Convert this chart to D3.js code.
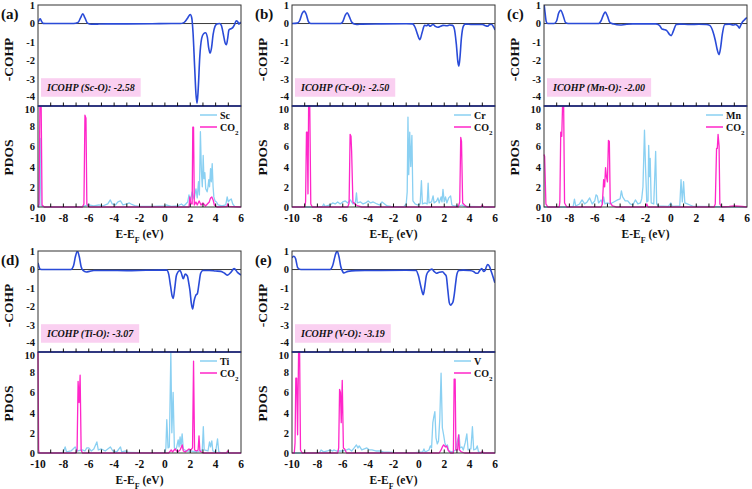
<!DOCTYPE html>
<html><head><meta charset="utf-8">
<script src="https://cdn.jsdelivr.net/npm/d3@7/dist/d3.min.js"></script>
<style>
body{margin:0;background:#fff}
svg{display:block}
text{font-family:"Liberation Serif","Times New Roman",serif;font-weight:bold;fill:#111}
</style>
</head><body>
<svg id="chart" width="752" height="489"></svg>
<script>
// ---------------- DATA ----------------
const panelLabels = ["(a)", "(b)", "(c)", "(d)", "(e)"];
const metals = ["Sc", "Cr", "Mn", "Ti", "V"];
const icohpPairs = ["Sc-O", "Cr-O", "Mn-O", "Ti-O", "V-O"];
const icohpValues = ["-2.58", "-2.50", "-2.00", "-3.07", "-3.19"];
const xTicks = [-10, -8, -6, -4, -2, 0, 2, 4, 6];
const xMinorTicks = [-9, -8, -7, -6, -5, -4, -3, -2, -1, 0, 1, 2, 3, 4, 5];
const cohpTicks = [1, 0, -1, -2, -3, -4];
const pdosTicks = [0, 2, 4, 6, 8, 10];

// -COHP curves [E, value]
const cohpSc = [[-10,0.05],[-9.9,0.2],[-9.82,0.25],[-9.72,0.12],[-9.6,0.01],[-9.3,0],[-7.2,0],[-6.85,0.05],[-6.65,0.3],[-6.47,0.52],[-6.3,0.3],[-6.1,0.02],[-5.8,-0.04],[-5.3,-0.03],[-4.5,-0.02],[-3,-0.02],[-1,-0.01],[0.5,0],[1.2,0],[1.5,0.05],[1.8,0.3],[2.0,0.49],[2.12,0.3],[2.22,-0.5],[2.35,-2.4],[2.45,-3.8],[2.54,-4.3],[2.63,-3.5],[2.75,-1.8],[2.9,-0.8],[3.05,-0.55],[3.2,-0.5],[3.35,-0.75],[3.45,-1.3],[3.56,-1.6],[3.68,-1.3],[3.8,-0.6],[3.95,-0.15],[4.1,-0.03],[4.3,0],[4.45,-0.1],[4.6,-0.55],[4.75,-1.05],[4.85,-1.14],[4.95,-0.8],[5.05,-0.35],[5.2,-0.28],[5.35,-0.22],[5.5,-0.05],[5.62,0.15],[5.72,0.12],[5.84,-0.03],[5.95,0.05],[6,0.05]];
const cohpCr = [[-10,0],[-9.6,0.02],[-9.4,0.15],[-9.2,0.55],[-9.04,0.67],[-8.88,0.5],[-8.7,0.1],[-8.5,0],[-6.2,0],[-6.0,0.1],[-5.8,0.45],[-5.65,0.58],[-5.5,0.4],[-5.3,0.08],[-5.1,-0.03],[-4.9,-0.05],[-4.5,-0.03],[-3,-0.02],[-1,-0.01],[-0.5,-0.02],[-0.3,-0.2],[-0.1,-0.6],[0.08,-0.87],[0.25,-0.5],[0.45,-0.1],[0.6,-0.12],[0.75,-0.05],[0.86,-0.15],[1.0,-0.1],[1.12,-0.05],[1.3,-0.15],[1.5,-0.2],[1.7,-0.15],[1.9,-0.1],[2.2,-0.12],[2.42,-0.08],[2.65,-0.1],[2.8,-0.3],[2.95,-1.1],[3.08,-2.1],[3.15,-2.3],[3.23,-1.9],[3.35,-0.8],[3.5,-0.15],[3.65,-0.03],[4.2,-0.05],[5.0,-0.05],[5.2,-0.1],[5.4,-0.15],[5.6,-0.05],[5.75,-0.05],[5.9,-0.2],[6,-0.35]];
const cohpMn = [[-10,1.1],[-9.92,0.6],[-9.82,0.1],[-9.7,0],[-9.2,0],[-9.0,0.15],[-8.85,0.55],[-8.68,0.72],[-8.5,0.45],[-8.3,0.05],[-8.1,0],[-5.7,0],[-5.5,0.15],[-5.3,0.5],[-5.17,0.62],[-5.0,0.4],[-4.8,0.05],[-4.5,-0.03],[-4.0,-0.08],[-3.6,-0.05],[-3,-0.02],[-1.2,-0.02],[-0.9,-0.1],[-0.7,-0.3],[-0.5,-0.33],[-0.3,-0.4],[-0.1,-0.6],[0.03,-0.65],[0.2,-0.4],[0.43,-0.05],[0.7,-0.03],[1.5,-0.05],[2.2,-0.04],[2.8,-0.05],[3.06,-0.1],[3.3,-0.4],[3.5,-0.9],[3.65,-1.4],[3.8,-1.68],[3.92,-1.3],[4.05,-0.6],[4.25,-0.05],[4.6,-0.03],[4.9,-0.08],[5.1,-0.05],[5.3,-0.15],[5.4,-0.25],[5.5,-0.1],[5.65,0.1],[5.8,0.2],[5.97,0.3],[6,0.3]];
const cohpTi = [[-10,0.36],[-9.92,0.15],[-9.82,0.02],[-9.6,0],[-7.4,0],[-7.2,0.2],[-7.05,0.7],[-6.89,1.0],[-6.75,0.7],[-6.6,0.15],[-6.45,-0.05],[-6.2,-0.13],[-5.95,-0.1],[-5.6,-0.05],[-4.5,-0.05],[-3,-0.06],[-1.5,-0.04],[-0.5,-0.03],[0.15,-0.03],[0.3,-0.25],[0.45,-0.9],[0.58,-1.45],[0.66,-1.56],[0.78,-1.0],[0.9,-0.35],[0.98,-0.2],[1.1,-0.08],[1.19,-0.05],[1.3,-0.2],[1.45,-0.5],[1.6,-0.25],[1.77,-0.35],[1.9,-0.8],[1.98,-1.15],[2.08,-1.8],[2.19,-2.13],[2.3,-1.7],[2.43,-1.4],[2.56,-1.3],[2.7,-0.7],[2.82,-0.2],[3.0,-0.05],[3.5,-0.05],[4.0,-0.08],[4.41,-0.1],[4.7,-0.2],[4.94,-0.3],[5.2,-0.15],[5.46,0.05],[5.72,-0.15],[6,-0.3]];
const cohpV = [[-10,0.63],[-9.85,0.72],[-9.72,0.6],[-9.55,0.1],[-9.3,0],[-7.0,0],[-6.8,0.2],[-6.6,0.75],[-6.44,1.0],[-6.3,0.7],[-6.15,0.15],[-6.0,-0.12],[-5.93,-0.18],[-5.6,-0.1],[-5.0,-0.06],[-3,-0.05],[-1,-0.04],[-0.22,-0.05],[-0.05,-0.3],[0.15,-0.9],[0.3,-1.3],[0.35,-1.36],[0.45,-1.0],[0.6,-0.3],[0.75,-0.1],[1.03,0.02],[1.2,-0.1],[1.38,-0.2],[1.6,-0.15],[1.85,-0.12],[2.05,-0.25],[2.16,-0.36],[2.28,-1.1],[2.4,-1.8],[2.5,-1.93],[2.6,-1.85],[2.68,-1.77],[2.8,-1.3],[2.9,-0.72],[3.0,-0.25],[3.15,-0.05],[3.5,-0.03],[3.93,-0.05],[4.3,-0.1],[4.5,-0.2],[4.65,-0.2],[4.8,-0.05],[4.96,0.05],[5.1,-0.1],[5.22,-0.05],[5.32,0.15],[5.43,0.27],[5.55,0.18],[5.7,-0.1],[5.85,-0.4],[5.99,-0.72]];

// PDOS metal curves [E, value]
const pdosSc = [[-10,0],[-9.9,0],[-9.83,6.8],[-9.76,0.1],[-9.5,0],[-7,0],[-6.5,0.05],[-6,0.2],[-5.6,0.1],[-5.2,0.2],[-4.9,0.1],[-4.5,0.3],[-4.3,0.7],[-4.15,0.3],[-3.9,0.2],[-3.7,0.5],[-3.5,0.6],[-3.3,0.2],[-3.0,0.3],[-2.8,0.4],[-2.6,0.25],[-2.3,0.1],[-2,0.05],[-1,0.05],[0,0.1],[0.1,0.2],[0.5,0.05],[1.0,0.1],[1.3,0.3],[1.5,0.1],[1.8,0.5],[1.9,1.2],[2.0,0.6],[2.15,1.5],[2.3,0.8],[2.45,1.8],[2.55,0.9],[2.65,2.5],[2.72,1.2],[2.8,7.45],[2.88,3.5],[2.95,2.0],[3.02,5.1],[3.08,2.8],[3.15,3.4],[3.22,1.8],[3.33,1.5],[3.4,2.0],[3.46,2.7],[3.52,2.0],[3.6,3.8],[3.66,2.5],[3.73,4.3],[3.8,2.0],[3.86,1.0],[3.95,0.6],[4.07,0.5],[4.2,0.2],[4.5,0.1],[4.8,0.2],[4.91,1.0],[5.0,0.5],[5.12,0.7],[5.23,0.8],[5.35,0.3],[5.5,0.05],[6,0]];
const pdosCr = [[-10,0],[-8,0],[-7.6,0.05],[-7.5,0.3],[-7.4,0.05],[-7.0,0.2],[-6.8,0.4],[-6.6,0.3],[-6.4,0.5],[-6.2,0.3],[-6.0,0.5],[-5.8,0.6],[-5.6,0.4],[-5.4,0.7],[-5.2,0.3],[-5.0,0.5],[-4.92,1.4],[-4.85,0.4],[-4.6,0.5],[-4.4,0.3],[-4.2,0.4],[-4.0,0.6],[-3.8,0.4],[-3.6,0.5],[-3.3,0.3],[-3.1,0.2],[-2.9,0.5],[-2.7,0.3],[-2.5,0.1],[-2.2,0.05],[-1.2,0],[-1.0,0.3],[-0.92,1.5],[-0.86,8.9],[-0.8,3.2],[-0.72,7.4],[-0.64,4.0],[-0.55,7.1],[-0.47,0.6],[-0.3,0.3],[-0.1,0.2],[0.1,0.3],[0.2,2.6],[0.28,0.3],[0.5,0.4],[0.65,0.3],[0.73,2.35],[0.8,0.4],[1.0,0.5],[1.12,1.1],[1.2,0.4],[1.4,0.6],[1.5,0.9],[1.6,0.4],[1.75,1.0],[1.82,0.5],[1.9,1.75],[2.0,0.5],[2.1,1.0],[2.2,0.4],[2.35,0.9],[2.5,1.1],[2.6,0.2],[2.8,0.1],[3.2,0.1],[3.4,0.2],[3.6,0.05],[6,0]];
const pdosMn = [[-10,0],[-8,0],[-7.7,0.05],[-7.6,0.77],[-7.5,0.1],[-7.2,0.3],[-7.0,0.7],[-6.8,0.3],[-6.6,0.5],[-6.4,0.9],[-6.2,0.3],[-6.0,0.6],[-5.9,1.2],[-5.8,1.1],[-5.7,0.4],[-5.5,0.7],[-5.4,0.3],[-5.3,1.0],[-5.2,0.3],[-5.0,0.4],[-4.8,0.3],[-4.5,0.5],[-4.2,0.7],[-4.0,0.8],[-3.9,1.6],[-3.8,1.0],[-3.6,0.6],[-3.4,0.6],[-3.2,0.3],[-3.0,0.2],[-2.8,0.7],[-2.6,0.3],[-2.4,0.4],[-2.3,0.8],[-2.2,2.0],[-2.08,7.6],[-2.0,4.0],[-1.9,0.5],[-1.8,0.6],[-1.75,6.1],[-1.68,3.0],[-1.63,4.8],[-1.55,0.4],[-1.35,0.3],[-1.2,5.5],[-1.12,0.3],[-1.0,0.1],[-0.2,0.05],[0,0.4],[0.1,0.05],[0.7,0.1],[0.8,2.7],[0.9,0.5],[1.0,2.5],[1.1,0.4],[1.3,0.3],[1.5,0.2],[1.8,0.05],[6,0]];
const pdosTi = [[-10,0],[-8.2,0],[-8.0,0.1],[-7.86,0.6],[-7.75,0.1],[-7.4,0.2],[-7.07,0.6],[-6.9,0.2],[-6.5,0.3],[-6.3,0.2],[-6.15,0.5],[-6.0,0.5],[-5.8,0.2],[-5.6,0.4],[-5.36,1.1],[-5.25,0.3],[-5.0,0.4],[-4.7,0.2],[-4.5,0.4],[-4.3,0.6],[-4.1,0.2],[-3.8,0.1],[-3.5,0.6],[-3.4,0.1],[-3.1,0.2],[-2.9,0.05],[-1,0],[0,0.05],[0.08,0.5],[0.15,3.3],[0.25,0.5],[0.35,0.6],[0.47,9.9],[0.55,2.0],[0.65,6.0],[0.75,0.5],[0.9,0.4],[1.05,1.3],[1.12,0.6],[1.2,1.6],[1.28,0.7],[1.36,1.9],[1.45,0.4],[1.7,0.2],[2.0,0.2],[2.5,0.1],[2.95,0.3],[3.03,2.6],[3.1,0.3],[3.4,0.2],[3.52,1.1],[3.6,0.6],[3.7,1.2],[3.78,0.2],[4.0,0.1],[4.15,1.4],[4.25,0.1],[4.5,0],[6,0]];
const pdosV = [[-10,0],[-8,0],[-7.8,0.1],[-7.7,0.3],[-7.5,0.1],[-7.2,0.2],[-7.0,0.3],[-6.8,0.2],[-6.7,0.3],[-6.5,0.2],[-6.0,0.2],[-5.7,0.3],[-5.5,0.4],[-5.3,0.2],[-5.1,0.5],[-4.92,0.8],[-4.8,0.5],[-4.7,0.7],[-4.5,0.3],[-4.3,0.4],[-4.1,0.5],[-3.9,0.3],[-3.7,0.3],[-3.4,0.2],[-3.1,0.2],[-2.8,0.1],[-2,0.05],[-0.5,0],[0.3,0.1],[0.4,0.4],[0.5,0.1],[0.8,0.3],[0.9,0.7],[1.0,0.5],[1.1,3.0],[1.18,3.6],[1.26,4.1],[1.35,1.5],[1.45,0.9],[1.55,1.2],[1.65,3.4],[1.75,7.9],[1.85,2.5],[1.95,1.8],[2.05,1.0],[2.15,0.6],[2.25,0.8],[2.35,0.2],[2.6,0.1],[2.9,0.3],[3.0,1.0],[3.1,1.5],[3.17,1.8],[3.25,0.5],[3.4,0.6],[3.5,0.3],[3.65,1.0],[3.78,1.9],[3.88,0.3],[4.0,0.4],[4.1,0.4],[4.22,2.6],[4.32,0.3],[4.5,0.4],[4.6,0.7],[4.7,0.1],[5,0],[6,0]];

// PDOS CO2 curves [E, value]
const co2Sc = [[-10,0],[-9.95,0.2],[-9.92,0.3],[-9.85,9.9],[-9.75,9.9],[-9.68,0.2],[-9.5,0],[-6.5,0],[-6.38,0.3],[-6.3,9.1],[-6.22,8.8],[-6.15,0.3],[-6.0,0],[1.9,0],[1.97,1.0],[2.05,0.3],[2.15,0.3],[2.2,7.9],[2.26,7.9],[2.32,0.2],[2.45,0.5],[2.55,0.2],[2.7,0.6],[2.85,0.2],[3.0,0.4],[3.2,0.1],[3.5,0.5],[3.6,0.9],[3.7,1.0],[3.8,0.7],[3.9,0.2],[4.1,0],[4.9,0.05],[4.95,0.3],[5.05,0.05],[6,0]];
const co2Cr = [[-10,0],[-9.0,0],[-8.93,0.5],[-8.86,7.4],[-8.8,7.4],[-8.74,1.3],[-8.69,10],[-8.6,10],[-8.52,0.3],[-8.4,0],[-5.6,0],[-5.5,0.4],[-5.42,7.2],[-5.35,7.0],[-5.3,5.5],[-5.2,0.5],[-5.05,0.3],[-4.8,0.1],[-4.5,0],[3.1,0],[3.22,0.5],[3.3,6.9],[3.36,6.5],[3.45,0.4],[3.6,0.2],[3.8,0],[4.9,0],[5.0,0.2],[5.1,0],[6,0]];
const co2Mn = [[-10,5.2],[-9.95,5.0],[-9.85,0.3],[-9.7,0],[-8.8,0],[-8.75,0.5],[-8.68,7.4],[-8.6,7.0],[-8.54,9.9],[-8.45,9.9],[-8.38,0.4],[-8.2,0],[-5.5,0],[-5.4,0.3],[-5.3,2.7],[-5.22,2.0],[-5.15,3.9],[-5.08,3.0],[-5.0,2.5],[-4.92,6.6],[-4.85,6.5],[-4.78,0.4],[-4.6,0.1],[-4.3,0],[-2,0],[-1.9,0.3],[-1.8,0],[3.4,0],[3.5,0.3],[3.6,5.8],[3.66,5.8],[3.72,7.2],[3.8,6.0],[3.86,0.3],[4.0,0],[4.6,0.05],[5.0,0.1],[5.6,0.05],[6,0]];
const co2Ti = [[-10,10],[-9.95,0.3],[-9.9,0],[-7.0,0],[-6.92,0.3],[-6.84,7.1],[-6.76,5.0],[-6.68,7.7],[-6.6,0.3],[-6.5,0],[0.3,0],[0.5,0.3],[0.6,0.1],[0.8,0.4],[1.0,0.1],[1.2,0.3],[1.37,0.8],[1.45,0.2],[1.6,0.1],[1.9,0.4],[2.05,0.3],[2.18,0.5],[2.26,9.1],[2.34,0.3],[2.5,0.2],[2.62,0.3],[2.69,1.7],[2.76,0.2],[3.0,0],[4.85,0],[4.95,0.2],[5.05,0],[6,0]];
const co2V = [[-10,0],[-9.82,0],[-9.76,1.0],[-9.7,7.4],[-9.63,7.4],[-9.56,1.8],[-9.48,10],[-9.4,10],[-9.33,0.3],[-9.2,0],[-6.4,0],[-6.32,0.5],[-6.25,6.3],[-6.18,6.0],[-6.12,3.0],[-6.04,7.2],[-5.95,0.5],[-5.85,0.4],[-5.7,0],[1.6,0],[1.75,0.3],[1.85,0.6],[1.95,0.8],[2.1,0.6],[2.2,0.7],[2.3,0.3],[2.5,0],[2.72,0],[2.78,7.3],[2.86,7.3],[2.92,0.3],[3.05,0.3],[3.13,1.8],[3.2,0.3],[3.35,0.1],[3.6,0],[4.9,0],[5.0,0.15],[5.1,0],[6,0]];

const cohpSeries = [cohpSc, cohpCr, cohpMn, cohpTi, cohpV];
const metalSeries = [pdosSc, pdosCr, pdosMn, pdosTi, pdosV];
const co2Series = [co2Sc, co2Cr, co2Mn, co2Ti, co2V];

// ---------------- LAYOUT / STYLE ----------------
const origins = [[38, 5], [292, 5], [544, 5], [38, 251], [292, 251]];
const W = 203, HC = 101, HP = 101;
const C_COHP = "#2a4bd8", C_METAL = "#8ad0f2", C_CO2 = "#ff26c9", C_BOX = "#fad0f1", C_FRAME = "#333";

const svg = d3.select("#chart");

panelLabels.forEach((lab, i) => {
  const [x0, y0] = origins[i];
  const g = svg.append("g");
  const x = d3.scaleLinear().domain([-10, 6]).range([x0, x0 + W]);
  const yC = d3.scaleLinear().domain([-4.45, 1]).range([y0 + HC, y0]);
  const yP = d3.scaleLinear().domain([0, 10]).range([y0 + HC + HP, y0 + HC]);

  const clipId = "clip" + i;
  svg.append("clipPath").attr("id", clipId).append("rect")
    .attr("x", x0).attr("y", y0).attr("width", W).attr("height", HC);

  // COHP zero line
  g.append("line").attr("x1", x0).attr("x2", x0 + W).attr("y1", yC(0)).attr("y2", yC(0))
    .attr("stroke", "#222").attr("stroke-width", 0.9);

  // ICOHP box
  const bx = x0 + 3, by = yC(-2.95), bh = yC(-3.95) - yC(-2.95);
  const lbl = g.append("text").attr("x", bx + 6).attr("y", by + bh / 2 + 3.5)
    .style("font-size", "10px").style("font-style", "italic")
    .text(`ICOHP (${icohpPairs[i]}): ${icohpValues[i]}`);
  const tw = lbl.node().getComputedTextLength();
  g.insert("rect", "text").attr("x", bx).attr("y", by).attr("width", tw + 12).attr("height", bh)
    .attr("fill", C_BOX);

  // COHP curve
  g.append("path").datum(cohpSeries[i])
    .attr("clip-path", `url(#${clipId})`)
    .attr("fill", "none").attr("stroke", C_COHP).attr("stroke-width", 1.6)
    .attr("d", d3.line().x(d => x(d[0])).y(d => yC(d[1])).curve(d3.curveMonotoneX));

  // PDOS curves
  const lineP = d3.line().x(d => x(d[0])).y(d => yP(d[1]));
  g.append("path").datum(metalSeries[i]).attr("fill", "none").attr("stroke", C_METAL)
    .attr("stroke-width", 1.3).attr("stroke-linejoin", "round").attr("d", lineP);
  g.append("path").datum(co2Series[i]).attr("fill", "none").attr("stroke", C_CO2)
    .attr("stroke-width", 1.3).attr("stroke-linejoin", "round").attr("d", lineP);

  // frames
  g.append("rect").attr("x", x0).attr("y", y0).attr("width", W).attr("height", HC)
    .attr("fill", "none").attr("stroke", C_FRAME).attr("stroke-width", 1);
  g.append("rect").attr("x", x0).attr("y", y0 + HC).attr("width", W).attr("height", HP)
    .attr("fill", "none").attr("stroke", C_FRAME).attr("stroke-width", 1);
  g.append("line").attr("x1", x0).attr("x2", x0 + W).attr("y1", y0 + HC).attr("y2", y0 + HC)
    .attr("stroke", "#1f2a8a").attr("stroke-width", 1.3);

  // inward x ticks
  [y0 + HC, y0 + HC + HP].forEach(yy => {
    g.selectAll(null).data(xMinorTicks).join("line")
      .attr("x1", d => x(d)).attr("x2", d => x(d)).attr("y1", yy).attr("y2", yy - 3.5)
      .attr("stroke", "#111").attr("stroke-width", 1);
  });

  // x tick labels
  g.selectAll(null).data(xTicks).join("text")
    .attr("x", d => x(d)).attr("y", y0 + HC + HP + 15).attr("text-anchor", "middle")
    .style("font-size", "11.5px").text(d => d);

  // y tick labels (the "-4" and "10" labels sit on the shared border, nudged apart)
  g.selectAll(null).data(cohpTicks).join("text")
    .attr("x", x0 - 3).attr("y", d => yC(d) + (d === -4 ? 2 : 3.5)).attr("text-anchor", "end")
    .style("font-size", "10.5px").text(d => d);
  g.selectAll(null).data(pdosTicks).join("text")
    .attr("x", x0 - 3).attr("y", d => yP(d) + (d === 10 ? 6.5 : 4)).attr("text-anchor", "end")
    .style("font-size", "10.5px").text(d => d);

  // axis titles
  g.append("text").attr("transform", `translate(${x0 - 25},${y0 + HC / 2 + 4}) rotate(-90)`)
    .attr("text-anchor", "middle").style("font-size", "13.5px").text("-COHP");
  g.append("text").attr("transform", `translate(${x0 - 25},${y0 + HC + HP / 2 + 1}) rotate(-90)`)
    .attr("text-anchor", "middle").style("font-size", "13.5px").text("PDOS");
  const xt = g.append("text").attr("x", x0 + W / 2).attr("y", y0 + HC + HP + 31)
    .attr("text-anchor", "middle").style("font-size", "11.5px");
  xt.append("tspan").text("E-E");
  xt.append("tspan").attr("baseline-shift", "sub").style("font-size", "8px").text("F");
  xt.append("tspan").text(" (eV)");

  // panel label
  g.append("text").attr("x", x0 - 37).attr("y", y0 + 14).style("font-size", "15px").text(lab);

  // legend
  const lx = x0 + W - 41, ly = y0 + HC + 9;
  g.append("line").attr("x1", lx).attr("x2", lx + 17).attr("y1", ly).attr("y2", ly)
    .attr("stroke", C_METAL).attr("stroke-width", 1.5);
  g.append("text").attr("x", lx + 20).attr("y", ly + 3.5).style("font-size", "10px").text(metals[i]);
  g.append("line").attr("x1", lx).attr("x2", lx + 17).attr("y1", ly + 12).attr("y2", ly + 12)
    .attr("stroke", C_CO2).attr("stroke-width", 1.5);
  const lt = g.append("text").attr("x", lx + 20).attr("y", ly + 15.5).style("font-size", "10px");
  lt.append("tspan").text("CO");
  lt.append("tspan").attr("baseline-shift", "sub").style("font-size", "7px").text("2");
});
</script>
</body></html>
